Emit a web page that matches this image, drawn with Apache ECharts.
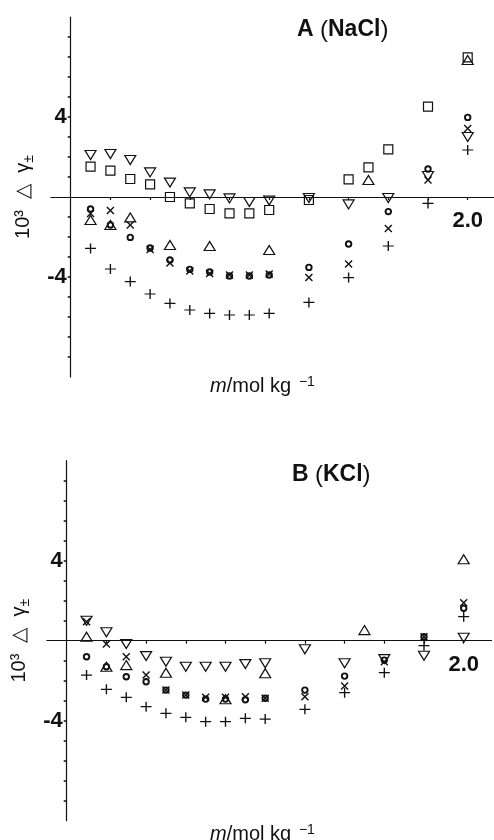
<!DOCTYPE html>
<html>
<head>
<meta charset="utf-8">
<script src="https://cdn.jsdelivr.net/npm/echarts@6/dist/echarts.min.js"></script>
<style>
  html, body { margin: 0; padding: 0; background: #fff; }
  #chart { width: 494px; height: 840px; }
</style>
</head>
<body>
<div id="chart"></div>
<script>
// Molality values (mol/kg) at which deviations were evaluated
const molality = [0.1, 0.2, 0.3, 0.4, 0.5, 0.6, 0.7, 0.8, 0.9, 1.0, 1.2, 1.4, 1.5, 1.6, 1.8, 2.0];

// Panel A (NaCl): 10^3 Δγ± for each symbol set (null = no point)
const nacl_square = [1.52, 1.32, 0.90, 0.63, 0.00, -0.32, -0.60, -0.82, -0.82, -0.65, -0.15, 0.88, 1.48, 2.38, 4.52, 6.98];
const nacl_down   = [2.10, 2.15, 1.85, 1.23, 0.72, 0.23, 0.13, -0.07, -0.25, -0.18, -0.05, -0.37, null, -0.05, 1.05, 3.00];
const nacl_up     = [-1.15, -1.40, -1.02, null, -2.40, null, -2.45, null, null, -2.65, null, null, 0.85, null, null, 6.85];
const nacl_circle = [-0.60, -1.40, -2.02, -2.55, -3.15, -3.62, -3.75, -3.95, -3.95, -3.90, -3.52, -2.35, null, -0.73, 1.40, 3.98];
const nacl_cross  = [-0.82, -0.68, -1.40, -2.62, -3.30, -3.70, -3.82, -3.90, -3.90, -3.85, -4.03, -3.35, null, -1.57, 0.85, 3.43];
const nacl_plus   = [-2.57, -3.60, -4.23, -4.85, -5.32, -5.65, -5.82, -5.90, -5.90, -5.82, -5.27, -4.03, null, -2.45, -0.32, 2.35];

// Panel B (KCl)
const kcl_down   = [1.00, 0.42, -0.17, -0.77, -1.05, -1.30, -1.30, -1.30, -1.17, -1.13, -0.43, -1.13, null, -0.92, -0.75, 0.15];
const kcl_up     = [0.20, -1.30, -1.22, null, -1.60, null, null, -2.93, null, -1.63, null, null, 0.53, null, null, 4.07];
const kcl_circle = [-0.80, -1.30, -1.80, -2.05, -2.47, -2.72, -2.92, -2.92, -2.95, -2.88, -2.47, -1.77, null, -0.97, 0.20, 1.62];
const kcl_cross  = [0.95, -0.17, -0.80, -1.72, -2.47, -2.72, -2.83, -2.83, -2.80, -2.88, -2.80, -2.27, null, -1.05, 0.20, 1.90];
const kcl_plus   = [-1.72, -2.43, -2.83, -3.30, -3.63, -3.83, -4.05, -4.05, -3.88, -3.92, -3.43, -2.60, null, -1.60, -0.25, 1.20];

// Axis ticks and labels
const xTicks = [0.2, 0.4, 0.6, 0.8, 1.0, 1.2, 1.4, 1.6, 1.8, 2.0];
const xLabels = [2.0];
const yTicks = [-8, -7, -6, -5, -4, -3, -2, -1, 1, 2, 3, 4, 5, 6, 7, 8];
const yLabels = [-4, 4];

// Axis ranges: x starts a little left of zero so the baseline pokes past the y axis
const X_MIN = -0.1, X_MAX = 2.14, Y_MIN = -9, Y_MAX = 9;
const PX_PER_M = 198.5, PX_PER_Y = 20;
const GRID_W = (X_MAX - X_MIN) * PX_PER_M;
const GRID_H = (Y_MAX - Y_MIN) * PX_PER_Y;
// shift the axes from the grid edge to the zero lines
const Y_AXIS_SHIFT = (0 - X_MIN) * PX_PER_M;
const X_AXIS_SHIFT = (0 - Y_MIN) * PX_PER_Y;

const INK = '#111';
const FONT = '"Liberation Sans", Arial, Helvetica, sans-serif';

const SYMBOLS = {
  square: { symbol: 'rect', symbolSize: 9, borderWidth: 1.2 },
  down:   { symbol: 'triangle', symbolSize: [11, 9], symbolRotate: 180, borderWidth: 1.2 },
  up:     { symbol: 'triangle', symbolSize: [11, 9], borderWidth: 1.2 },
  circle: { symbol: 'circle', symbolSize: 5.5, borderWidth: 1.9 },
  cross:  { symbol: 'path://M0,0L10,10M10,0L0,10', symbolSize: 7, borderWidth: 1.4 },
  plus:   { symbol: 'path://M5,0L5,10M0,5L10,5', symbolSize: [11, 10], borderWidth: 1.3 }
};

function pairs(values) {
  const out = [];
  values.forEach((v, i) => { if (v !== null) out.push([molality[i], v]); });
  return out;
}

function scatter(values, kind, panel) {
  const s = SYMBOLS[kind];
  return {
    type: 'scatter',
    xAxisIndex: panel,
    yAxisIndex: panel,
    data: pairs(values),
    symbol: s.symbol,
    symbolSize: s.symbolSize,
    symbolRotate: s.symbolRotate || 0,
    itemStyle: { color: 'rgba(0,0,0,0)', borderColor: INK, borderWidth: s.borderWidth, opacity: 1 },
    emphasis: { disabled: true },
    z: 3
  };
}

function xAxis(gridIndex) {
  return {
    type: 'value', gridIndex, min: X_MIN, max: X_MAX,
    position: 'bottom', offset: -X_AXIS_SHIFT,
    axisLine: { onZero: false, lineStyle: { color: INK, width: 1.2 } },
    axisTick: { show: true, length: 3, customValues: xTicks, lineStyle: { color: INK, width: 1.2 } },
    axisLabel: {
      customValues: xLabels, margin: 13,
      formatter: v => v.toFixed(1),
      color: INK, fontFamily: FONT, fontWeight: 'bold', fontSize: 22
    },
    splitLine: { show: false }
  };
}

const yName = '{n|10³  △  γ}{s|±}';
function yAxis(gridIndex) {
  return {
    type: 'value', gridIndex, min: Y_MIN, max: Y_MAX,
    position: 'left', offset: -Y_AXIS_SHIFT,
    name: yName, nameLocation: 'middle', nameGap: 35,
    nameTextStyle: {
      rich: {
        n: { fontFamily: FONT, fontSize: 20, color: INK, lineHeight: 24 },
        s: { fontFamily: FONT, fontSize: 14, color: INK, lineHeight: 24, verticalAlign: 'bottom' }
      }
    },
    axisLine: { onZero: false, lineStyle: { color: INK, width: 1.2 } },
    axisTick: { show: true, length: 3, customValues: yTicks, lineStyle: { color: INK, width: 1.5 } },
    axisLabel: {
      customValues: yLabels, margin: 4,
      formatter: v => String(v),
      color: INK, fontFamily: FONT, fontWeight: 'bold', fontSize: 22
    },
    splitLine: { show: false }
  };
}

const titleRich = {
  b: { fontFamily: FONT, fontWeight: 'bold', fontSize: 23, color: INK },
  p: { fontFamily: FONT, fontWeight: 'normal', fontSize: 24, color: INK }
};
const unitRich = {
  i: { fontFamily: FONT, fontStyle: 'italic', fontWeight: 'normal', fontSize: 20, color: INK, lineHeight: 22 },
  r: { fontFamily: FONT, fontWeight: 'normal', fontSize: 20, color: INK, lineHeight: 22 },
  s: { fontFamily: FONT, fontWeight: 'normal', fontSize: 14, color: INK, lineHeight: 22, verticalAlign: 'top' }
};
const unitText = '{i|m}{r|/mol kg}{s|  −1}';

const chart = echarts.init(document.getElementById('chart'), null, { renderer: 'canvas' });
chart.setOption({
  backgroundColor: '#fff',
  animation: false,
  title: [
    { text: '{b|A }{p|(}{b|NaCl}{p|)}', left: 292, top: 13, textStyle: { rich: titleRich } },
    { text: '{b|B }{p|(}{b|KCl}{p|)}', left: 287, top: 458, textStyle: { rich: titleRich } },
    { text: unitText, left: 205, top: 370, textStyle: { rich: unitRich } },
    { text: unitText, left: 205, top: 818, textStyle: { rich: unitRich } }
  ],
  grid: [
    { left: 50.85, top: 17, width: GRID_W, height: GRID_H, containLabel: false, outerBoundsMode: 'none' },
    { left: 46.85, top: 460.7, width: GRID_W, height: GRID_H, containLabel: false, outerBoundsMode: 'none' }
  ],
  xAxis: [xAxis(0), xAxis(1)],
  yAxis: [yAxis(0), yAxis(1)],
  series: [
    scatter(nacl_square, 'square', 0),
    scatter(nacl_down, 'down', 0),
    scatter(nacl_up, 'up', 0),
    scatter(nacl_circle, 'circle', 0),
    scatter(nacl_cross, 'cross', 0),
    scatter(nacl_plus, 'plus', 0),
    scatter(kcl_down, 'down', 1),
    scatter(kcl_up, 'up', 1),
    scatter(kcl_circle, 'circle', 1),
    scatter(kcl_cross, 'cross', 1),
    scatter(kcl_plus, 'plus', 1)
  ]
});
</script>
</body>
</html>
